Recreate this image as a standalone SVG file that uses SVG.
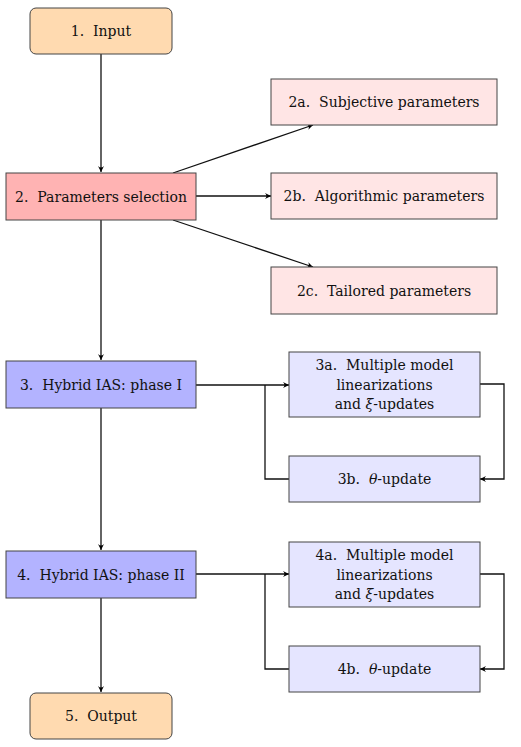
<svg xmlns="http://www.w3.org/2000/svg" width="521" height="747" viewBox="0 0 521 747">
<defs>
<marker id="ah" markerWidth="8" markerHeight="8" refX="7" refY="4" orient="auto" markerUnits="userSpaceOnUse">
<path d="M1,1 Q4,4 1,7 L7,4 Z" fill="#000"/>
</marker>
<style>
text{font-family:"DejaVu Serif","Liberation Serif",serif;font-size:14px;fill:#111;text-anchor:middle;dominant-baseline:central;white-space:pre}
.b{stroke:#444;stroke-width:1}
.io{fill:#FFDAB0}
.p{fill:#FFB3B3}
.pl{fill:#FFE5E5}
.h{fill:#B3B3FF}
.hl{fill:#E5E5FF}
.c{fill:none;stroke:#111;stroke-width:1.3}
</style>
</defs>
<g id="connectors">
<path class="c" d="M101,54 V172" marker-end="url(#ah)"/>
<path class="c" d="M173,173 L313,125" marker-end="url(#ah)"/>
<path class="c" d="M196,196 H271" marker-end="url(#ah)"/>
<path class="c" d="M173,220 L313,267" marker-end="url(#ah)"/>
<path class="c" d="M101,220 V360" marker-end="url(#ah)"/>
<path class="c" d="M196,385 H289" marker-end="url(#ah)"/>
<path class="c" d="M480,384 H504 V479 H480" marker-end="url(#ah)"/>
<path class="c" d="M289,479 H265 V385"/>
<path class="c" d="M101,408 V550" marker-end="url(#ah)"/>
<path class="c" d="M196,574 H289" marker-end="url(#ah)"/>
<path class="c" d="M480,574 H504 V669 H480" marker-end="url(#ah)"/>
<path class="c" d="M289,669 H265 V574"/>
<path class="c" d="M101,598 V692" marker-end="url(#ah)"/>
</g>
<g id="n1"><rect class="b io" x="30" y="8" width="142" height="46" rx="6"/><text x="101" y="31">1.  Input</text></g>
<g id="n2"><rect class="b p" x="6" y="173" width="190" height="47"/><text x="101" y="196.5">2.  Parameters selection</text></g>
<g id="n2a"><rect class="b pl" x="271" y="79" width="226" height="46"/><text x="384" y="102">2a.  Subjective parameters</text></g>
<g id="n2b"><rect class="b pl" x="271" y="173" width="226" height="46"/><text x="384" y="196">2b.  Algorithmic parameters</text></g>
<g id="n2c"><rect class="b pl" x="271" y="267" width="226" height="47"/><text x="384" y="290.5">2c.  Tailored parameters</text></g>
<g id="n3"><rect class="b h" x="6" y="361" width="190" height="47"/><text x="101" y="384.5">3.  Hybrid IAS: phase I</text></g>
<g id="n3a"><rect class="b hl" x="289" y="352" width="191" height="65"/><text x="384.5" y="365">3a.  Multiple model</text><text x="384.5" y="384.5">linearizations</text><text x="384.5" y="404">and <tspan font-style="italic">ξ</tspan>-updates</text></g>
<g id="n3b"><rect class="b hl" x="289" y="456" width="191" height="46"/><text x="384.5" y="479">3b.  <tspan font-style="italic">θ</tspan>-update</text></g>
<g id="n4"><rect class="b h" x="6" y="551" width="190" height="47"/><text x="101" y="574.5">4.  Hybrid IAS: phase II</text></g>
<g id="n4a"><rect class="b hl" x="289" y="542" width="191" height="65"/><text x="384.5" y="555">4a.  Multiple model</text><text x="384.5" y="574.5">linearizations</text><text x="384.5" y="594">and <tspan font-style="italic">ξ</tspan>-updates</text></g>
<g id="n4b"><rect class="b hl" x="289" y="646" width="191" height="46"/><text x="384.5" y="669">4b.  <tspan font-style="italic">θ</tspan>-update</text></g>
<g id="n5"><rect class="b io" x="30" y="693" width="142" height="46" rx="6"/><text x="101" y="716">5.  Output</text></g>
</svg>
